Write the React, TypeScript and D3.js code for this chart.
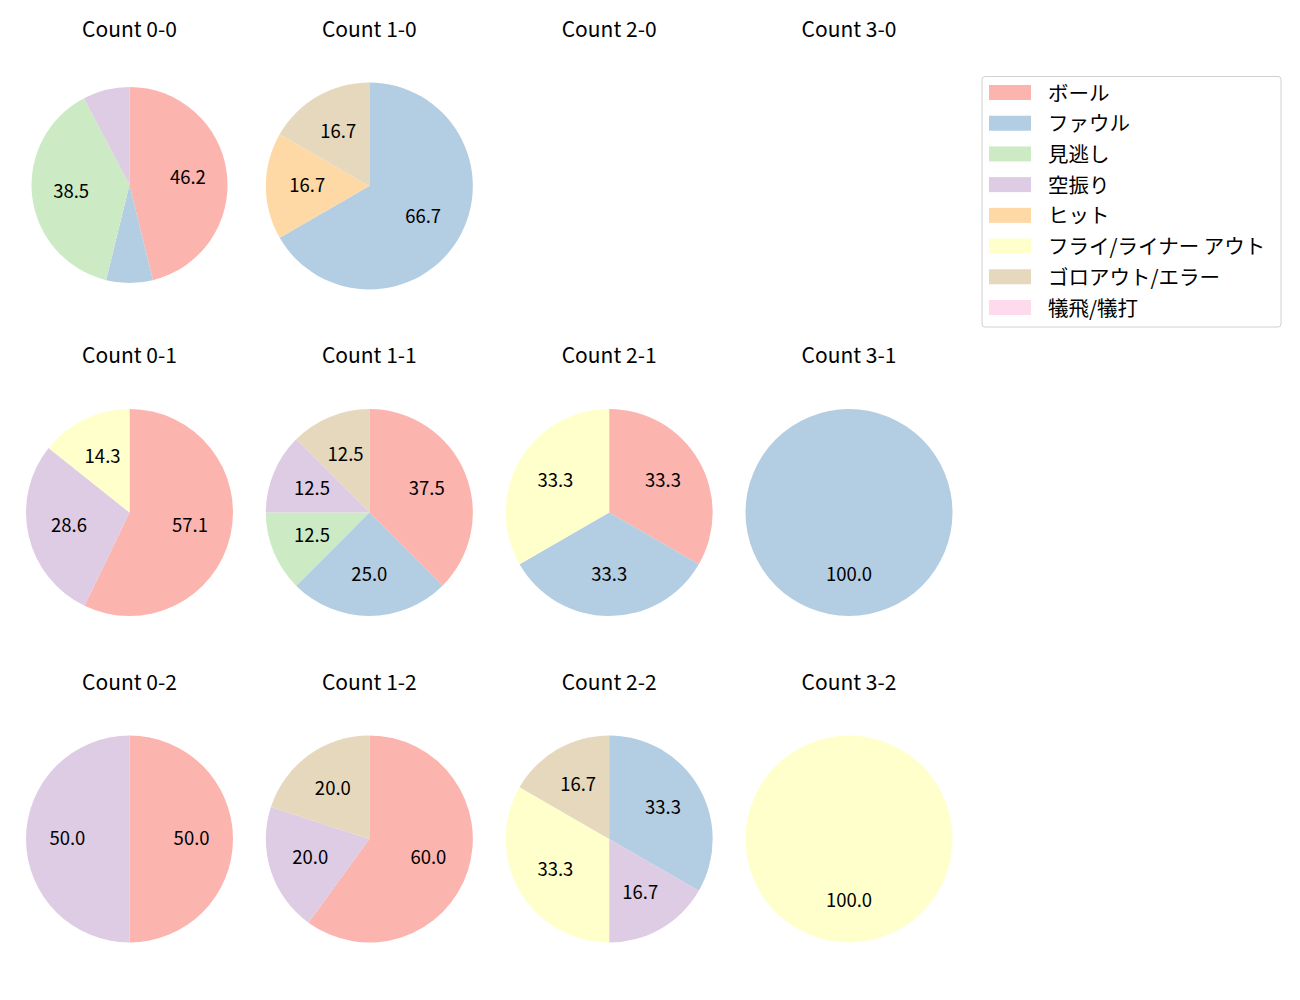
import React from "react";
import * as d3 from "d3";

const categories = ["ボール", "ファウル", "見逃し", "空振り", "ヒット", "フライ/ライナー アウト", "ゴロアウト/エラー", "犠飛/犠打"];
const colors = ["#fbb4ae", "#b3cde3", "#ccebc5", "#decbe4", "#fed9a6", "#ffffcc", "#e5d8bd", "#fddaec"];

// counts per category, in category order
const titles = [
  ["Count 0-0", "Count 1-0", "Count 2-0", "Count 3-0"],
  ["Count 0-1", "Count 1-1", "Count 2-1", "Count 3-1"],
  ["Count 0-2", "Count 1-2", "Count 2-2", "Count 3-2"],
];
const count00 = [6, 1, 5, 1, 0, 0, 0, 0];
const count10 = [0, 4, 0, 0, 1, 0, 1, 0];
const count20 = [0, 0, 0, 0, 0, 0, 0, 0];
const count30 = [0, 0, 0, 0, 0, 0, 0, 0];
const count01 = [4, 0, 0, 2, 0, 1, 0, 0];
const count11 = [3, 2, 1, 1, 0, 0, 1, 0];
const count21 = [1, 1, 0, 0, 0, 1, 0, 0];
const count31 = [0, 1, 0, 0, 0, 0, 0, 0];
const count02 = [1, 0, 0, 1, 0, 0, 0, 0];
const count12 = [3, 0, 0, 1, 0, 0, 1, 0];
const count22 = [0, 2, 0, 1, 0, 2, 1, 0];
const count32 = [0, 0, 0, 0, 0, 1, 0, 0];
const grid = [
  [count00, count10, count20, count30],
  [count01, count11, count21, count31],
  [count02, count12, count22, count32],
];

const FONT = "'Noto Sans CJK JP', 'Noto Sans', sans-serif";

function Pie({ values, cx, cy, r }: { values: number[]; cx: number; cy: number; r: number }) {
  const total = d3.sum(values);
  if (total === 0) return null;
  const items = values.map((v, i) => ({ v, i })).filter((d) => d.v > 0);
  const pie = d3.pie<{ v: number; i: number }>().sort(null).value((d) => d.v).startAngle(0).endAngle(2 * Math.PI);
  const arcs = pie(items);
  const arc = d3.arc<d3.PieArcDatum<{ v: number; i: number }>>().innerRadius(0).outerRadius(r);
  return (
    <g transform={`translate(${cx},${cy})`}>
      {arcs.map((a) =>
        items.length === 1 ? (
          <circle key={a.data.i} r={r} fill={colors[a.data.i]} />
        ) : (
          <path key={a.data.i} d={arc(a) || ""} fill={colors[a.data.i]} />
        )
      )}
      {arcs.map((a) => {
        const pct = (a.data.v / total) * 100;
        if (pct < 10) return null;
        const m = (a.startAngle + a.endAngle) / 2;
        const x = Math.sin(m) * r * 0.6;
        const y = -Math.cos(m) * r * 0.6;
        return (
          <text key={"t" + a.data.i} x={x} y={y + 6} textAnchor="middle" fontSize={18.5} fontWeight={400} fontFamily={FONT} fill="#000">
            {pct.toFixed(1)}
          </text>
        );
      })}
    </g>
  );
}

export default function App() {
  const colX = d3.scaleLinear().domain([0, 3]).range([129.5, 849]);
  const rowY = d3.scaleLinear().domain([0, 2]).range([186, 839]);
  const legendY = d3.scaleLinear().domain([0, 7]).range([92.5, 307.5]);
  return (
    <svg width={1300} height={1000} style={{ position: "absolute", left: 0, top: 0, background: "#fff" }}>
      <rect width={1300} height={1000} fill="#fff" />
      {grid.map((row, ri) =>
        row.map((vals, ci) => {
          const cx = colX(ci);
          const cy = rowY(ri);
          const r = ri === 0 && ci === 0 ? 98 : 103.5;
          return (
            <g key={`${ri}-${ci}`}>
              <text x={cx} y={cy - 149.5} textAnchor="middle" fontSize={21} fontWeight={400} fontFamily={FONT} fill="#000">
                {titles[ri][ci]}
              </text>
              <Pie values={vals} cx={cx} cy={ri === 0 && ci === 0 ? cy - 1 : cy} r={r} />
            </g>
          );
        })
      )}
      <g>
        <rect x={982} y={76.5} width={299} height={250.5} rx={3} fill="#fff" stroke="#d0d0d0" strokeWidth={1} />
        {categories.map((c, i) => (
          <g key={c}>
            <rect x={989} y={legendY(i) - 7.5} width={42} height={15} fill={colors[i]} />
            <text x={1048} y={legendY(i) - 1} dominantBaseline="central" fontSize={20.5} fontWeight={400} fontFamily={FONT} fill="#000">
              {c}
            </text>
          </g>
        ))}
      </g>
    </svg>
  );
}
